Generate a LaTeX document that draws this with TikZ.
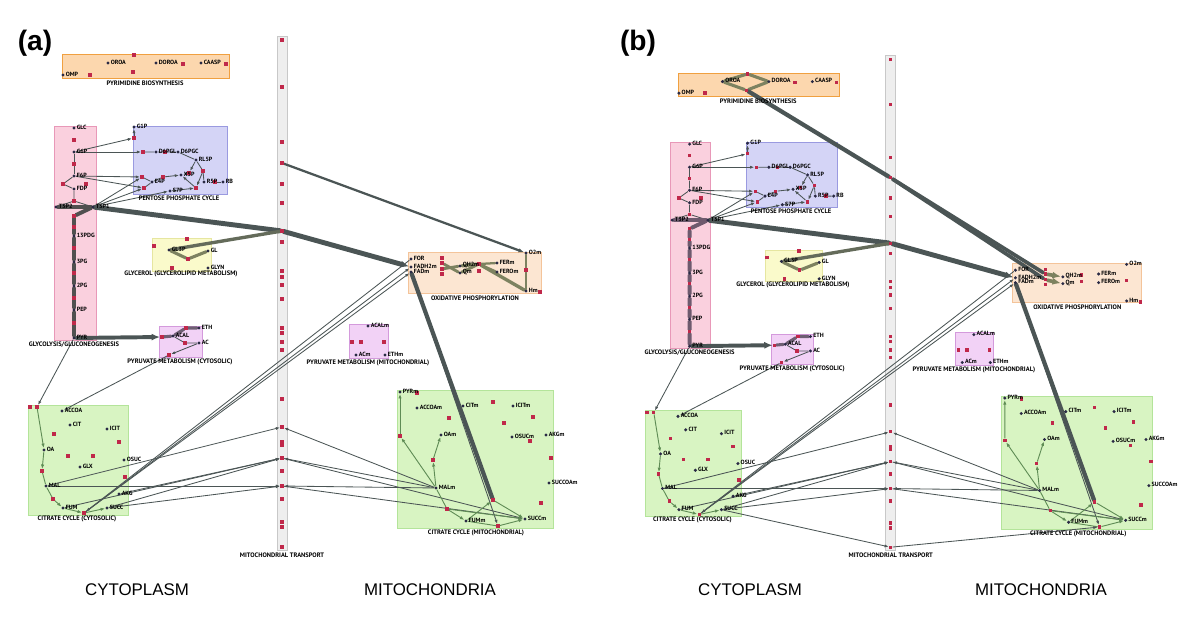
\documentclass[tikz,border=0pt]{standalone}
\usepackage{fontspec}
\setmainfont{Liberation Sans}
\newfontfamily\mapfont{PT Sans}
\usetikzlibrary{arrows.meta}

\definecolor{edgec}{HTML}{4B5555}
\definecolor{cycc}{HTML}{5F8C55}
\definecolor{olivec}{HTML}{7D8260}
\definecolor{ethc}{HTML}{6E5F73}
\definecolor{dotc}{HTML}{2A2A45}
\definecolor{rxnc}{HTML}{C0284A}
\definecolor{trunkc}{HTML}{505050}
\definecolor{pyb}{HTML}{F0A040}\definecolor{pyf}{HTML}{FCD7AE}
\definecolor{glb}{HTML}{E898B8}\definecolor{glf}{HTML}{FAD0DE}
\definecolor{ppb}{HTML}{9A9AE0}\definecolor{ppf}{HTML}{D4D4F6}
\definecolor{gyb}{HTML}{E6E6A0}\definecolor{gyf}{HTML}{FAFACB}
\definecolor{pvb}{HTML}{D49ADC}\definecolor{pvf}{HTML}{F2D2F6}
\definecolor{oxb}{HTML}{F4C49A}\definecolor{oxf}{HTML}{FCE6D2}
\definecolor{tcb}{HTML}{B4E49A}\definecolor{tcf}{HTML}{D8F4C2}
\definecolor{trb}{HTML}{C8C8C8}\definecolor{trf}{HTML}{EEEEEE}

\pgfdeclarelayer{bg}
\pgfdeclarelayer{edges}
\pgfsetlayers{bg,edges,main}

\tikzset{
  met/.style={circle, fill=dotc, inner sep=0pt, minimum size=2.4pt,
    label={[mettext]east:#1}},
  mettext/.style={font=\mapfont\bfseries\fontsize{4.3}{5}\selectfont, inner sep=0.4pt, yshift=0.6pt},
  rxn/.style={rectangle, fill=rxnc, inner sep=0pt, minimum size=2.4pt},
  boxlabel/.style={font=\mapfont\bfseries\fontsize{4.6}{5}\selectfont, inner sep=0pt},
  pw/.style 2 args={draw=#1, fill=#2, line width=0.6pt},
  rx/.style={draw=edgec, line width=0.6pt},
  rxa/.style={rx, -{Latex[length=3pt,width=2.2pt]}},
  flux/.style={draw=edgec, line width=#1, line cap=round},
  trunk/.style={draw=trunkc, line width=#1, line cap=round},
  band/.style={draw=olivec, line width=#1, line cap=round},
  ethband/.style={draw=ethc, line width=2.2pt, line cap=round},
  cycline/.style={draw=cycc, line width=0.65pt},
  cyc/.style={cycline, -{Latex[length=3.2pt,width=2.4pt]}},
  bigtip/.style={-{Latex[length=6pt,width=5pt]}},
  panel/.style={font=\bfseries\fontsize{20}{24}\selectfont},
  compart/.style={font=\fontsize{12}{14}\selectfont},
}

% one metabolic map, node names prefixed with #1
\newcommand\pathwaymap[1]{%
  \begin{pgfonlayer}{bg}
    \filldraw[pw={trb}{trf}] (277,36) rectangle (287,550);
    \filldraw[pw={pyb}{pyf}] (62,54) rectangle (229,78);
    \filldraw[pw={glb}{glf}] (54,126) rectangle (96,340);
    \filldraw[pw={ppb}{ppf}] (133,126) rectangle (227,194);
    \filldraw[pw={gyb}{gyf}] (152,238) rectangle (211,271);
    \filldraw[pw={pvb}{pvf}] (159,326) rectangle (202,357);
    \filldraw[pw={oxb}{oxf}] (408,252) rectangle (541,293);
    \filldraw[pw={pvb}{pvf}] (349,324) rectangle (388,358);
    \filldraw[pw={tcb}{tcf}] (397,390) rectangle (553,528);
    \filldraw[pw={tcb}{tcf}] (28,405) rectangle (128,515);
  \end{pgfonlayer}
  \node[boxlabel] (#1lpyrim) at (145,83) {PYRIMIDINE BIOSYNTHESIS};
  \node[boxlabel] (#1lglyc) at (74,345) {GLYCOLYSIS/GLUCONEOGENESIS};
  \node[boxlabel] (#1lppp) at (179,198) {PENTOSE PHOSPHATE CYCLE};
  \node[boxlabel] (#1lgly) at (181,274) {GLYCEROL (GLYCEROLIPID METABOLISM)};
  \node[boxlabel] (#1lpyrc) at (180,362) {PYRUVATE METABOLISM (CYTOSOLIC)};
  \node[boxlabel] (#1loxp) at (475,298) {OXIDATIVE PHOSPHORYLATION};
  \node[boxlabel] (#1lpyrm) at (368,363) {PYRUVATE METABOLISM (MITOCHONDRIAL)};
  \node[boxlabel] (#1ltcam) at (476,533) {CITRATE CYCLE (MITOCHONDRIAL)};
  \node[boxlabel] (#1ltcac) at (77,519) {CITRATE CYCLE (CYTOSOLIC)};
  \node[boxlabel] (#1ltrans) at (282,555) {MITOCHONDRIAL TRANSPORT};
  % reactions
  \foreach \y [count=\i] in {40,87,142,163,184,203,231,242,271,277,285,299,328,333,342,350,
      399,427,442,445,458,471,486,499,522,527,547}
    \node[rxn] (#1t\i) at (282,\y) {};
  \foreach \n/\x/\y in {p1/134/55,p2/90/75,p3/133/72,p4/183/64,p5/226/64,
      g1/74/140,g2/74/164,g3/63/184,g4/86/184,g5/74/201,g6/74/216,g7/74/227,
      g8/74/248,g9/74/273,g10/74/298,g11/74/323,
      q1/134/138,q2/143/152,q3/165/152,q4/189/173,q5/203/171,q6/215/182,
      q7/142/177,q8/144/188,q9/196/188,q10/163/177,
      l1/154/246,l2/187/239,l3/188/259,l4/172/268,
      y1/162/337,y2/186/328,y3/185/343,y4/169/355,
      o1/442/258,o2/442/263,o3/442/269,o4/442/274,o5/479/264,o6/479/271,o7/526/270,o8/540/292,
      m1/352/342,m2/361/342,m3/384/342,
      k1/417/393,k2/493/402,k3/449/418,k4/504/423,k5/533/417,k6/400/436,k7/530/441,
      k8/551/458,k9/433/460,k10/493/500,k11/541/503,k12/447/509,k13/498/526,
      c1/30/407,c2/37/407,c3/54/434,c4/119/442,c5/68/456,c6/93/456,c7/42/471,
      c8/125/477,c9/53/499,c10/84/513}
    \node[rxn] (#1\n) at (\x,\y) {};
  % metabolites
  \foreach \n/\x/\y/\lbl in {omp/63/75/OMP,oroa/108/63/OROA,doroa/156/63/DOROA,caasp/201/63/CAASP,
      glc/74/128/GLC,g6p/74/152/G6P,f6p/74/176/F6P,fdp/74/189/FDP,t3p2/56/207/T3P2,
      t3p1/93/207/T3P1,13pdg/74/236/13PDG,3pg/74/262/3PG,2pg/74/286/2PG,pep/74/310/PEP,pyr/74/338/PYR,
      g1p/134/127/G1P,d6pgl/156/152/D6PGL,d6pgc/178/152/D6PGC,rl5p/196/160/RL5P,x5p/181/175/X5P,
      e4p/152/182/E4P,s7p/170/191/S7P,r5p/204/182/R5P,rb/223/182/RB,
      gl3p/169/250/GL3P,gl/208/251/GL,glyn/208/268/GLYN,
      eth/199/328/ETH,acal/173/336/ACAL,ac/199/343/AC,
      for/411/259/FOR,fadh2m/411/267/FADH2m,fadm/411/272/FADm,qh2m/460/266/QH2m,qm/460/273/Qm,
      ferm/497/263/FERm,ferom/497/272/FEROm,o2m/526/253/O2m,hm/526/291/Hm,
      acalm/368/326/ACALm,acm/356/355/ACm,ethm/385/355/ETHm,
      pyrm/400/392/PYRm,accoam/417/408/ACCOAm,citm/463/406/CITm,icitm/513/406/ICITm,
      oam/441/435/OAm,osucm/512/437/OSUCm,akgm/546/435/AKGm,malm/436/488/MALm,
      succoam/549/483/SUCCOAm,fumm/466/521/FUMm,succm/525/519/SUCCm,
      accoa/62/411/ACCOA,cit/70/425/CIT,icit/107/429/ICIT,oa/44/450/OA,glx/80/467/GLX,
      osuc/124/460/OSUC,mal/46/486/MAL,akg/119/494/AKG,fum/63/508/FUM,succ/107/508/SUCC}
    \node[met=\lbl] (#1\n) at (\x,\y) {};
  \begin{pgfonlayer}{edges}
    % glycolysis
    \draw[rx] (#1g6p) -- (#1g2) -- (#1f6p);
    \draw[rx] (#1f6p) -- (#1g3) -- (#1fdp) -- (#1g5);
    \draw[rx] (#1g5) -- (#1t3p2);
    \draw[rx] (#1g5) -- (#1t3p1);
    \draw[trunk=2.8pt] (#1t3p2) -- (#1t3p1);
    \draw[trunk=2.8pt] (#1t3p1) -- (#1g6) -- (#1g7) -- (#113pdg) -- (#1g8) -- (#13pg) -- (#1g9)
      -- (#12pg) -- (#1g10) -- (#1pep) -- (#1g11) -- (#1pyr);
    \draw[flux=2.8pt, bigtip] (#1pyr) -- (#1y1);
    % pyruvate
    \draw[ethband] (#1y1) -- (#1acal) -- (#1y2) -- (#1eth);
    \draw[rx] (#1acal) -- (#1y3) -- (#1ac);
    \draw[rxa] (#1ac) -- (#1y4);
    \draw[rxa] (#1y4) -- (#1accoa);
    \draw[rxa] (#1pyr) -- (#1c2);
    % pentose phosphate
    \draw[rxa] (#1g6p) -- (#1q1);
    \draw[rxa] (#1q1) -- (#1g1p);
    \draw[rxa] (#1g6p) -- (#1q2);
    \draw[rx] (#1q2) -- (#1d6pgl) -- (#1q3) -- (#1d6pgc) -- (#1rl5p);
    \draw[rxa] (#1rl5p) -- (#1q4);
    \draw[rxa] (#1q4) -- (#1x5p);
    \draw[rx] (#1rl5p) -- (#1q5);
    \draw[rxa] (#1q5) -- (#1q9);
    \draw[rx] (#1q5) -- (#1r5p);
    \draw[rxa] (#1f6p) -- (#1q7);
    \draw[rxa] (#1f6p) -- (#1q8);
    \draw[rxa] (#1t3p1) -- (#1q7);
    \draw[rxa] (#1t3p1) -- (#1q8);
    \draw[rxa] (#1t3p1) -- (#1s7p);
    \draw[rx] (#1q7) -- (#1e4p);
    \draw[rx] (#1q8) -- (#1e4p) -- (#1q10);
    \draw[rxa] (#1q10) -- (#1x5p);
    \draw[rxa] (#1s7p) -- (#1q9);
    \draw[rxa] (#1q9) -- (#1x5p);
    \draw[rx] (#1q6) -- (#1rb);
    % glycerol, transport, oxidative phosphorylation
    \draw[flux=3.5pt] (#1t3p1) -- (#1t7);
    \draw[band=2.4pt, draw=olivec!50!edgec] (#1t7) -- (#1gl3p);
    \draw[band=2.2pt] (#1gl3p) -- (#1l3) -- (#1gl);
    \draw[flux=3.5pt, bigtip] (#1t7) -- (#1fadh2m);
    \draw[flux=3pt] (#1fadm) -- (#1k10);
    \draw[rxa] (#1fadm) -- (#1k13);
    \draw[rxa] (#1c10) -- (#1fadh2m);
    \draw[rxa] (#1c10) -- (#1fadm);
    \draw[rxa] (#1for) -- (#1c10);
    % cytosolic citrate cycle
    \draw[cyc] (#1c2) -- (#1oa);
    \draw[cyc] (#1oa) -- (#1c7);
    \draw[cycline] (#1c7) -- (#1mal) -- (#1c9);
    \draw[cyc] (#1c9) -- (#1fum);
    \draw[cyc] (#1fum) -- (#1c10);
    \draw[cyc] (#1c10) -- (#1succ);
    % exchange through the transport column
    \draw[rxa] (#1mal) -- (#1t18);
    \draw[rxa] (#1mal) -- (#1t23);
    \draw[rxa] (#1fum) -- (#1t21);
    \draw[rxa] (#1akg) -- (#1t21);
    \draw[rxa] (#1succ) -- (#1t21);
    \draw[rxa] (#1succ) -- (#1t23);
    \draw[rxa] (#1malm) -- (#1t18);
    \draw[rxa] (#1malm) -- (#1t21);
    \draw[rxa] (#1t21) -- (#1succm);
    \draw[rxa] (#1malm) -- (#1t23);
    \draw[rxa] (#1t23) -- (#1succm);
    % mitochondrial citrate cycle
    \draw[cyc] (#1k6) -- (#1pyrm);
    \draw[cyc] (#1malm) -- (#1k6);
    \draw[cyc] (#1malm) -- (#1k9);
    \draw[cyc] (#1k9) -- (#1oam);
    \draw[cycline] (#1malm) -- (#1k12);
    \draw[cyc] (#1k12) -- (#1fumm);
    \draw[cyc] (#1k12) -- (#1succm);
    \draw[cyc] (#1fumm) -- (#1k10);
    \draw[cyc] (#1k10) -- (#1succm);
    \draw[cycline] (#1fumm) -- (#1k13);
    \draw[cyc] (#1k13) -- (#1succm);
  \end{pgfonlayer}
}

\begin{document}
\begin{tikzpicture}[x=0.025cm, y=-0.025cm]
\useasboundingbox (0,0) rectangle (1200,628);

% (a)
\pathwaymap{a}
\begin{pgfonlayer}{edges}
  \draw[flux=1.6pt, -{Latex[length=4pt,width=3pt]}] (at4) -- (ao2m);
  \draw[band=2pt] (ao2) -- (aqm);
  \draw[band=2pt] (ao3) -- (aqh2m);
  \draw[band=2.4pt] (aqh2m) -- (ao5);
  \draw[band=2pt] (aqm) -- (ao5);
  \draw[band=1.6pt] (ao5) -- (aferm);
  \draw[band=1.6pt] (ao5) -- (aferom);
  \draw[band=2.4pt] (ao5) -- (ahm);
  \draw[band=2pt] (ao2m) -- (ao7) -- (ahm);
\end{pgfonlayer}

% (b)
\begin{scope}[shift={(618,21)}, xscale=0.967, yscale=0.962]
  \definecolor{trunkc}{HTML}{6E5A6E}
  \pathwaymap{b}
  \begin{pgfonlayer}{edges}
    \draw[band=2.2pt] (boroa) -- (bp1) -- (bdoroa);
    \draw[band=2.2pt] (boroa) -- (bp3) -- (bdoroa);
    \draw[flux=3pt] (bp3) -- (bt4);
    \draw[flux=2.6pt] (bt4) -- (bo2);
    \draw[flux=2.6pt] (bt4) -- (bo3);
    \draw[band=2.6pt, bigtip] (bo2) -- (bqh2m);
    \draw[band=2.6pt, bigtip] (bo3) -- (bqm);
    \draw[rxa] (bsucc) -- (bt27);
    \draw[rxa] (bt27) -- (bk13);
  \end{pgfonlayer}
\end{scope}

\node[panel] (pa) at (35,43) {(a)};
\node[panel] (pb) at (638,43) {(b)};
\node[compart] (cyta) at (137,590) {CYTOPLASM};
\node[compart] (mita) at (430,590) {MITOCHONDRIA};
\node[compart] (cytb) at (750,590) {CYTOPLASM};
\node[compart] (mitb) at (1041,590) {MITOCHONDRIA};
\end{tikzpicture}
\end{document}
